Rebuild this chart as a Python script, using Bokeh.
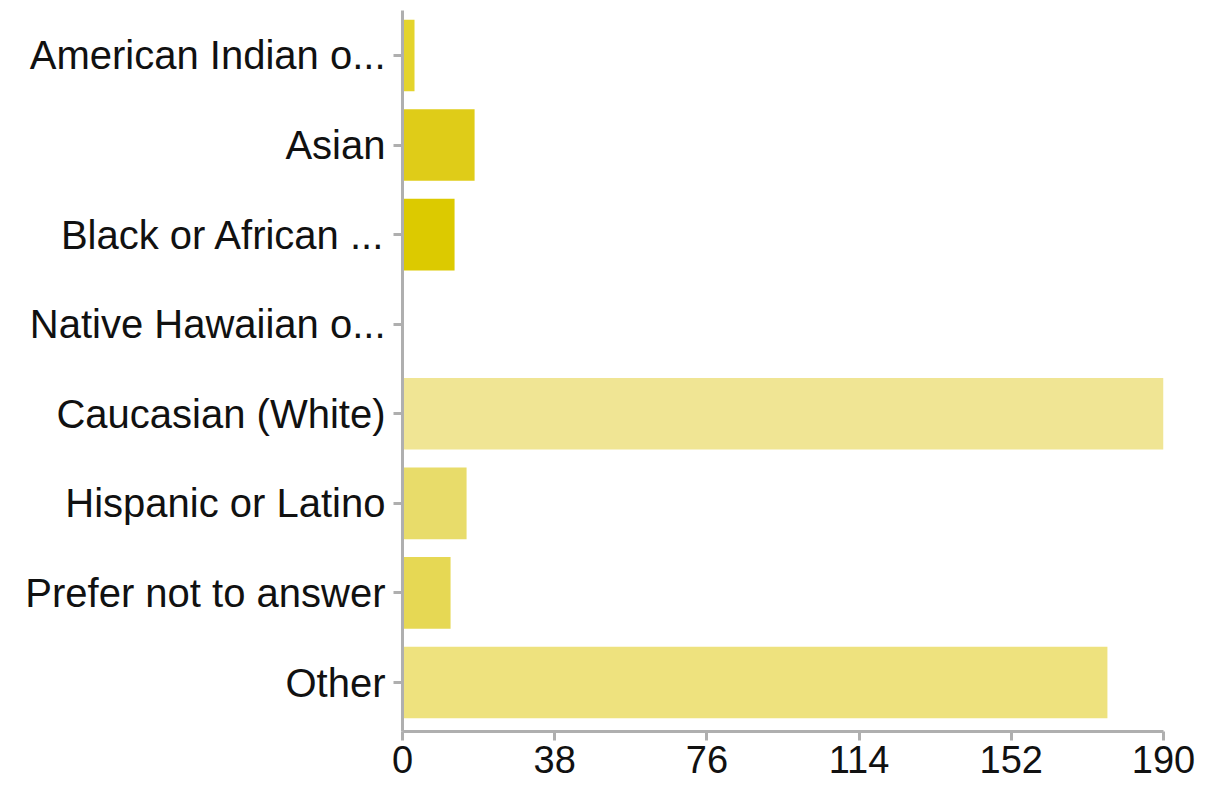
from bokeh.plotting import figure
from bokeh.models import ColumnDataSource, Range1d, FixedTicker
from bokeh.embed import file_html
from bokeh.resources import INLINE

categories = [
    "American Indian o...",
    "Asian",
    "Black or African ...",
    "Native Hawaiian o...",
    "Caucasian (White)",
    "Hispanic or Latino",
    "Prefer not to answer",
    "Other",
]
counts = [3, 18, 13, 0, 190, 16, 12, 176]
bar_colors = ["#E4D42C", "#DFCC18", "#DCCA00", "#E2D23A",
              "#F0E594", "#E8DC6A", "#E6D854", "#EEE27E"]
x_ticks = [0, 38, 76, 114, 152, 190]

positions = list(range(len(categories)))
src = ColumnDataSource(dict(y=positions, right=counts, color=bar_colors))

p = figure(
    width=1197, height=784,
    frame_width=761, frame_height=721,
    min_border_left=402, min_border_right=34,
    min_border_top=10, min_border_bottom=53,
    x_range=Range1d(0, 190),
    y_range=Range1d(len(categories) - 0.453, -0.502),
    output_backend="svg", toolbar_location=None,
)

p.hbar(y="y", left=0, right="right", height=0.8, fill_color="color",
       line_color=None, source=src)

p.grid.visible = False
p.outline_line_color = None
p.background_fill_color = "white"
p.border_fill_color = "white"

for ax in (p.xaxis[0], p.yaxis[0]):
    ax.axis_line_color = "#AFAFAF"
    ax.axis_line_width = 3
    ax.major_tick_line_color = "#AFAFAF"
    ax.major_tick_line_width = 3
    ax.major_tick_out = 9
    ax.major_tick_in = 0
    ax.minor_tick_line_color = None
    ax.major_label_text_font = "Liberation Sans"
    ax.major_label_text_font_size = "40px"
    ax.major_label_text_color = "#111111"

p.xaxis.ticker = FixedTicker(ticks=x_ticks)
p.xaxis.major_label_standoff = 5
p.xaxis.major_label_text_font_size = "38px"
p.yaxis.ticker = FixedTicker(ticks=positions)
p.yaxis.major_label_overrides = {i: c for i, c in zip(positions, categories)}
p.yaxis.major_label_standoff = 8

open("out.html", "w").write(file_html(p, INLINE))
